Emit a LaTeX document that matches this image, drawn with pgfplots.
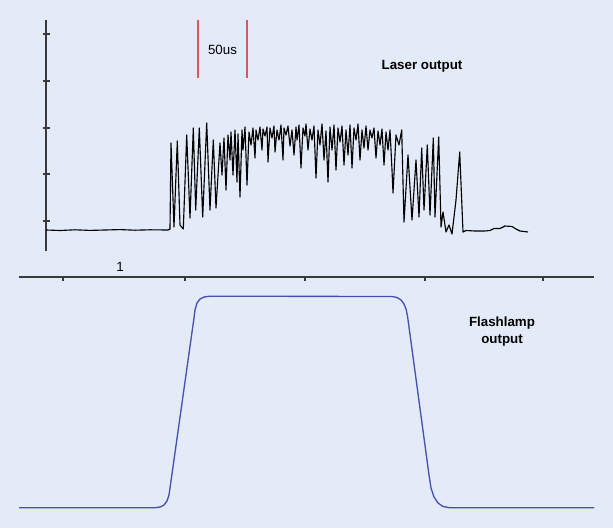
\documentclass[border=0pt]{standalone}
\usepackage{pgfplots}
\pgfplotsset{compat=1.18}
\usepackage{fontspec}
\setmainfont{Liberation Sans}
\definecolor{bgc}{HTML}{E3EAF8}
\definecolor{axc}{HTML}{3A3A3A}
\definecolor{lampc}{rgb}{0.29,0.31,0.70}
\definecolor{barc}{rgb}{0.82,0.36,0.35}
\begin{document}
\begin{tikzpicture}
\fill[bgc] (0,0) rectangle (459.75pt,396pt);
\begin{axis}[at={(0,0)}, anchor=south west,
  width=459.75pt, height=396pt, scale only axis,
  xmin=0, xmax=613, ymin=0, ymax=528, y dir=reverse,
  hide axis, clip=false]
% axes of the laser panel
\draw[axc, line width=1pt] (axis cs:46,20) -- (axis cs:46,251);
\foreach \yy in {34,81,128,174,221} {
  \edef\tmp{\noexpand\draw[axc, line width=0.9pt] (axis cs:42.5,\yy) -- (axis cs:50,\yy);}\tmp
}
\draw[axc, line width=1pt] (axis cs:19,277) -- (axis cs:594,277);
\foreach \xx in {63,185,305,425,543} {
  \edef\tmp{\noexpand\draw[axc, line width=0.9pt] (axis cs:\xx,277) -- (axis cs:\xx,281);}\tmp
}
\node[font=\fontsize{10pt}{11pt}\selectfont] at (axis cs:120,267) {1};
% scale bar
\addplot[barc, line width=0.8pt, forget plot] coordinates {(198,20) (198,78)};
\addplot[barc, line width=0.8pt, forget plot] coordinates {(247,20) (247,78)};
\node[font=\fontsize{10pt}{11pt}\selectfont] at (axis cs:222.5,50) {50us};
% labels
\node[font=\fontsize{10pt}{11pt}\selectfont\bfseries] at (axis cs:422,66) {Laser output};
\node[font=\fontsize{10pt}{12.8pt}\selectfont\bfseries, align=center] at (axis cs:502,332) {Flashlamp\\output};
% laser output trace
\addplot[black, line width=0.85pt, line join=round] coordinates {
(46,230) (60,230.5) (75,229.8) (90,230.4) (105,230) (120,229.6) (135,230.2) (150,229.8) (168,230)
(170,229) (171,143) (174,227) (177.3,141) (180,225) (183.3,229) (186.7,135) (190,218) (193.3,128)
(195.7,210) (199.3,128) (202.7,217) (206.7,123) (210,210) (213.3,140) (216,208) (220,143) (222,175)
(224,138) (226,190) (228,135) (230,160) (231,132) (233,175) (235,130) (237,182) (238,134) (240,197)
(242,130) (243,150) (245,127) (247,185) (249,132) (251,145) (253,128) (255,158) (256,130) (258,140)
(260,127) (262,150) (263,129) (265,136) (267,127) (268,162) (270,128) (272,138) (274,126) (275,152)
(277,130) (279,140) (281,125) (283,160) (284,128) (286,135) (288,126) (290,146) (292,130) (294,155)
(296,127) (297,140) (299,125) (301,168) (303,128) (305,136) (306,124) (308,150) (310,129) (312,140)
(314,126) (316,178) (318,130) (320,145) (322,124) (324,160) (326,131) (328,182) (330,127) (332,150)
(334,125) (336,170) (338,128) (340,142) (342,126) (344,165) (346,130) (348,155) (350,125) (352,168)
(354,128) (356,140) (358,124) (360,160) (362,130) (364,148) (366,126) (368,150) (370,130) (372,138)
(374,128) (376,158) (378,131) (380,145) (382,129) (384,165) (386,132) (388,150) (390,130) (392,170)
(393,193) (396,135) (399,145) (401.7,130) (404,222) (408,155) (412,220) (416,160) (419,217)
(421.7,148) (424,210) (427.3,145) (430,215) (433.3,138) (435,217) (438.7,137) (441,227) (443,212)
(446,232) (449,225) (452,234) (456,200) (459.7,152) (463,232) (466,230.5) (475,231) (485,231)
(490,230.5) (494,228.5) (500,228.5) (505,226) (512,226.5) (516,229) (520,231) (528,232)
};
% flashlamp output
\addplot[lampc, line width=1pt, line join=round] coordinates {
(19,507.8) (155,507.8) (160,507) (164,505) (167,501) (169,495) (170,488)
(194,318) (195,310) (197,303) (200,299) (204,297) (210,296.2)
(392,296.5) (397,297.5) (401,300) (404,304) (406,309) (407.5,316)
(429,475) (431,488) (434,497) (438,503) (443,506.5) (450,507.8) (594,507.8)
};
\end{axis}
\end{tikzpicture}
\end{document}
